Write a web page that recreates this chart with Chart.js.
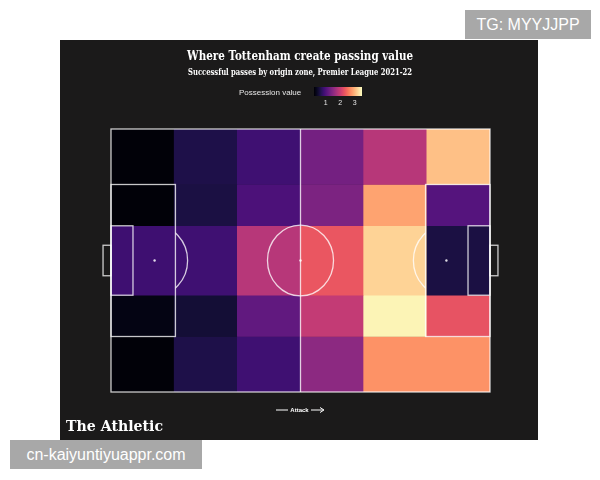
<!DOCTYPE html>
<html><head><meta charset="utf-8">
<script src="https://cdn.jsdelivr.net/npm/chart.js@4.4.1/dist/chart.umd.min.js"></script>
<style>
html,body{margin:0;padding:0;background:#fff;width:600px;height:480px;overflow:hidden;}
#panel{position:absolute;left:60px;top:40px;width:478px;height:400px;background:#1b1a1a;}
.wm{position:absolute;background:#a8a8a8;color:#fff;font-family:"Liberation Sans",Arial,sans-serif;font-size:16px;line-height:29px;text-align:center;}
</style></head><body>
<div id="panel"><canvas id="c" width="478" height="400"></canvas></div>
<div class="wm" style="left:465px;top:10px;width:126px;height:29px;">TG: MYYJJPP</div>
<div class="wm" style="left:10px;top:440px;width:192px;height:29px;">cn-kaiyuntiyuappr.com</div>
<script>
// Pitch zones (Opta coordinates 0-100)
const columns = ['0-16.7','16.7-33.3','33.3-50','50-66.7','66.7-83.3','83.3-100'];
const rowLabels = ['Left wing','Left half-space','Centre','Right half-space','Right wing'];
const rowWidths = [21.1, 15.7, 26.4, 15.7, 21.1];
// Possession value per zone, rows top to bottom, columns left (own goal) to right (attack)
const row1 = [0.23, 0.63, 0.89, 1.32, 1.85, 3.07];
const row2 = [0.23, 0.60, 0.99, 1.39, 2.87, 1.06];
const row3 = [0.88, 0.89, 1.85, 2.31, 3.20, 0.60];
const row4 = [0.30, 0.53, 1.16, 1.95, 3.43, 2.28];
const row5 = [0.23, 0.63, 0.89, 1.52, 2.74, 2.74];
const valueRows = [row1, row2, row3, row4, row5];
const vMin = 0.2, vMax = 3.5;
const colorbarTicks = [1, 2, 3];

const magma = ['#000004','#07061c','#140e36','#251255','#3b0f70','#51127c','#641a80','#782281','#8c2981','#a1307e','#b73779','#ca3e72','#de4968','#ed5a5f','#f7705c','#fc8961','#fe9f6d','#feb77e','#fecf92','#fde7a9','#fcfdbf'];
function hex2rgb(h){return [parseInt(h.slice(1,3),16),parseInt(h.slice(3,5),16),parseInt(h.slice(5,7),16)];}
function magmaColor(t){
  t=Math.max(0,Math.min(1,t));
  const p=t*(magma.length-1), i=Math.min(Math.floor(p),magma.length-2), f=p-i;
  const a=hex2rgb(magma[i]), b=hex2rgb(magma[i+1]);
  return 'rgb('+a.map((v,k)=>Math.round(v+(b[k]-v)*f)).join(',')+')';
}
const colorFor = v => magmaColor((v-vMin)/(vMax-vMin));

const datasets = valueRows.map((vals,r)=>({
  label: rowLabels[r],
  data: columns.map(()=>rowWidths[r]),
  backgroundColor: vals.map(colorFor),
  borderWidth: 0,
  categoryPercentage: 1,
  barPercentage: 1,
  stack: 'pitch'
}));

// draw text at a given font size, squeezed horizontally to a target width
function drawFit(ctx, text, font, x, y, width, align){
  ctx.save();
  ctx.font = font;
  const w = ctx.measureText(text).width;
  const s = Math.min(1.2, width / w);
  const x0 = align==='center' ? x - width/2 : x;
  ctx.translate(x0, y);
  ctx.scale(s, 1);
  ctx.textAlign = 'left';
  ctx.fillText(text, 0, 0);
  ctx.restore();
}

const pitchPlugin = {
  id:'pitch',
  afterDatasetsDraw(chart){
    const ctx=chart.ctx, a=chart.chartArea;
    const W=a.right-a.left, H=a.bottom-a.top;
    const X=x=>a.left+x/100*W, Y=y=>a.top+y/100*H;
    ctx.save();
    ctx.strokeStyle='rgba(255,255,255,0.78)';
    ctx.lineWidth=1.3;
    const rect=(x1,y1,x2,y2)=>{ctx.strokeRect(X(x1),Y(y1),X(x2)-X(x1),Y(y2)-Y(y1));};
    rect(0,0,100,100);
    ctx.beginPath();ctx.moveTo(X(50),Y(0));ctx.lineTo(X(50),Y(100));ctx.stroke();
    rect(0,21.1,17,78.9); rect(83,21.1,100,78.9);
    rect(0,36.8,5.8,63.2); rect(94.2,36.8,100,63.2);
    rect(-2.1,44.2,0,55.8); rect(100,44.2,102.1,55.8);
    const rx=9.15/105*W, ry=9.15/68*H;
    ctx.beginPath();ctx.ellipse(X(50),Y(50),rx,ry,0,0,Math.PI*2);ctx.stroke();
    // penalty arcs
    ctx.save();ctx.beginPath();ctx.rect(X(17),a.top,W,H);ctx.clip();
    ctx.beginPath();ctx.ellipse(X(11.5),Y(50),rx,ry,0,0,Math.PI*2);ctx.stroke();ctx.restore();
    ctx.save();ctx.beginPath();ctx.rect(a.left,a.top,X(83)-a.left,H);ctx.clip();
    ctx.beginPath();ctx.ellipse(X(88.5),Y(50),rx,ry,0,0,Math.PI*2);ctx.stroke();ctx.restore();
    ctx.fillStyle='rgba(255,255,255,0.85)';
    [[50,50],[11.5,50],[88.5,50]].forEach(([x,y])=>{ctx.beginPath();ctx.arc(X(x),Y(y),1.2,0,Math.PI*2);ctx.fill();});
    ctx.restore();
  },
  afterDraw(chart){
    const ctx=chart.ctx;
    ctx.save();
    ctx.fillStyle='#ffffff';ctx.textBaseline='alphabetic';
    drawFit(ctx,'Where Tottenham create passing value','bold 12.5px "DejaVu Serif"',240,20,226,'center');
    drawFit(ctx,'Successful passes by origin zone, Premier League 2021-22','bold 8.3px "DejaVu Serif"',240,34.5,224,'center');
    // legend
    ctx.textBaseline='middle';
    ctx.fillStyle='#e6e6e6';ctx.textAlign='left';
    ctx.font='8px "Liberation Sans", Arial, sans-serif';
    ctx.fillText('Possession value',179,52.5);
    const bx0=254,bx1=302,by=47,bh=9;
    const g=ctx.createLinearGradient(bx0,0,bx1,0);
    for(let i=0;i<=20;i++){g.addColorStop(i/20,magmaColor(i/20));}
    ctx.fillStyle=g;ctx.fillRect(bx0,by,bx1-bx0,bh);
    ctx.fillStyle='#e6e6e6';ctx.textAlign='center';ctx.font='7px "Liberation Sans", Arial, sans-serif';
    colorbarTicks.forEach(t=>{ctx.fillText(String(t),bx0+(t-vMin)/(vMax-vMin)*(bx1-bx0),63.5);});
    // attack arrow
    ctx.strokeStyle='#ffffff';ctx.lineWidth=1;ctx.fillStyle='#ffffff';
    ctx.beginPath();ctx.moveTo(216,370);ctx.lineTo(228,370);ctx.moveTo(251,370);ctx.lineTo(263,370);ctx.stroke();
    ctx.beginPath();ctx.moveTo(260,367.5);ctx.lineTo(264,370);ctx.lineTo(260,372.5);ctx.stroke();
    ctx.font='bold 6px "Liberation Sans", Arial, sans-serif';
    ctx.fillText('Attack',239.5,370.5);
    // brand
    ctx.textBaseline='alphabetic';ctx.fillStyle='#ffffff';
    drawFit(ctx,'The Athletic','bold 15.5px "DejaVu Serif"',6,391,97,'left');
    ctx.restore();
  }
};

new Chart(document.getElementById('c'),{
  type:'bar',
  data:{labels:columns,datasets},
  options:{
    responsive:false,animation:false,
    layout:{padding:{left:51,right:48,top:89,bottom:48}},
    plugins:{legend:{display:false},tooltip:{enabled:false},title:{display:false}},
    scales:{
      x:{display:false,stacked:true,grid:{display:false}},
      y:{display:false,stacked:true,min:0,max:100,reverse:true,grid:{display:false}}
    }
  },
  plugins:[pitchPlugin]
});
</script>
</body></html>
